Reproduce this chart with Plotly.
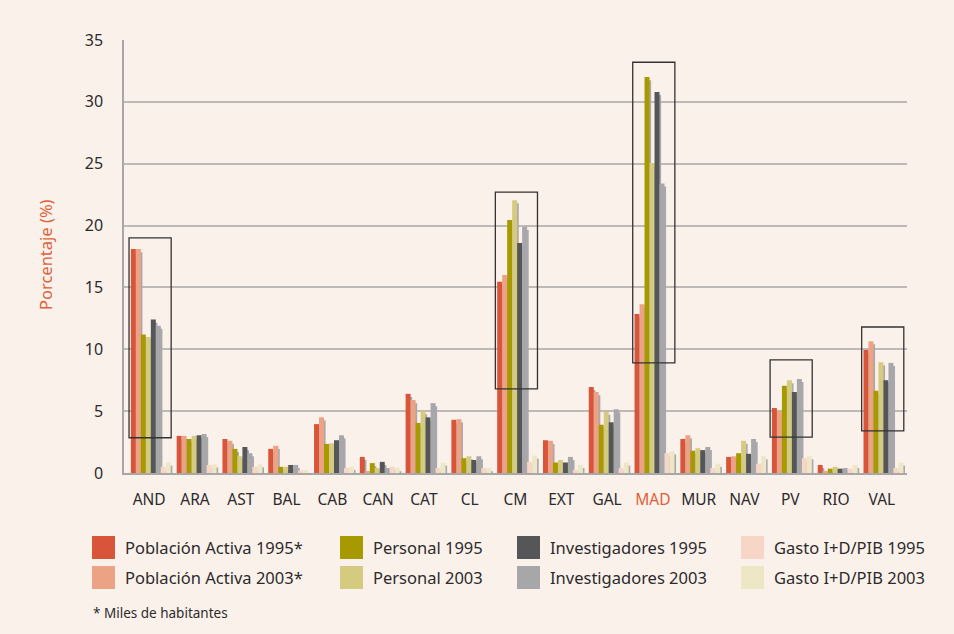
import plotly.graph_objects as go

regions = ["AND", "ARA", "AST", "BAL", "CAB", "CAN", "CAT", "CL", "CM",
           "EXT", "GAL", "MAD", "MUR", "NAV", "PV", "RIO", "VAL"]

pob_activa_1995 = [18.1, 3.0, 2.75, 1.95, 3.95, 1.3, 6.4, 4.3, 15.45, 2.65, 6.95, 12.85, 2.75, 1.3, 5.25, 0.65, 9.95]
pob_activa_2003 = [18.1, 3.0, 2.6, 2.2, 4.5, 0.1, 5.9, 4.35, 16.0, 2.6, 6.55, 13.65, 3.05, 1.35, 5.0, 0.1, 10.65]
personal_1995 = [11.2, 2.75, 1.95, 0.5, 2.35, 0.8, 4.05, 1.2, 20.45, 0.85, 3.9, 32.0, 1.8, 1.6, 7.05, 0.35, 6.65]
personal_2003 = [11.0, 3.0, 1.35, 0.5, 2.4, 0.4, 5.0, 1.35, 22.05, 1.05, 4.95, 25.05, 2.0, 2.6, 7.5, 0.5, 8.95]
invest_1995 = [12.4, 3.05, 2.1, 0.65, 2.65, 0.9, 4.5, 1.05, 18.6, 0.85, 4.1, 30.8, 1.85, 1.55, 6.55, 0.35, 7.5]
invest_2003 = [11.9, 3.15, 1.6, 0.65, 3.05, 0.4, 5.65, 1.35, 19.9, 1.3, 5.15, 23.4, 2.1, 2.75, 7.6, 0.4, 8.9]
gasto_1995 = [0.5, 0.65, 0.5, 0.2, 0.4, 0.5, 0.4, 0.4, 0.9, 0.25, 0.4, 1.6, 0.4, 0.75, 1.2, 0.35, 0.4]
gasto_2003 = [0.85, 0.7, 0.7, 0.25, 0.5, 0.4, 0.85, 0.4, 1.4, 0.65, 0.85, 1.75, 0.75, 1.35, 1.35, 0.65, 0.85]

series = [
    ("Población Activa 1995*", pob_activa_1995, "#d9553a"),
    ("Población Activa 2003*", pob_activa_2003, "#eca284"),
    ("Personal 1995", personal_1995, "#a69a00"),
    ("Personal 2003", personal_2003, "#d4cb80"),
    ("Investigadores 1995", invest_1995, "#555657"),
    ("Investigadores 2003", invest_2003, "#a7a7aa"),
    ("Gasto I+D/PIB 1995", gasto_1995, "#f8d6c7"),
    ("Gasto I+D/PIB 2003", gasto_2003, "#ede7c5"),
]

# highlighted groups: (region, low, high)
boxes = [("AND", 2.85, 19.0), ("CM", 6.8, 22.7), ("MAD", 8.9, 33.2),
         ("PV", 2.9, 9.15), ("VAL", 3.4, 11.8)]

FONT = "Noto Sans"
W, H = 954, 634
L, R, T, B = 124, 907, 40, 473


def px(x):
    return (x - L) / (R - L)


def py(y):
    return (B - y) / (B - T)


bw = 0.109
start = -0.40

fig = go.Figure()

# 3d-ish grey shadows behind each bar
for j, (name, vals, col) in enumerate(series):
    fig.add_trace(go.Bar(x=regions, y=vals, base=-0.25, width=bw,
                         offset=start + j * bw + 0.035,
                         marker=dict(color="#a9a9ad", line_width=0),
                         showlegend=False, hoverinfo="skip"))

for j, (name, vals, col) in enumerate(series):
    fig.add_trace(go.Bar(x=regions, y=vals, name=name, width=bw,
                         offset=start + j * bw,
                         marker=dict(color=col, line_width=0),
                         showlegend=False))

for reg, lo, hi in boxes:
    i = regions.index(reg)
    fig.add_shape(type="rect", xref="x", yref="y", x0=i - 0.44, x1=i + 0.48,
                  y0=lo, y1=hi, line=dict(color="#333333", width=1.3),
                  fillcolor="rgba(0,0,0,0)", layer="above")

# manual legend, 4 columns x 2 rows
cols_x = [92, 340, 517, 741]
rows_y = [536, 566]
order = [0, 2, 4, 6, 1, 3, 5, 7]
for k, idx in enumerate(order):
    name, vals, col = series[idx]
    cx = cols_x[k % 4]
    ry = rows_y[k // 4]
    fig.add_shape(type="rect", xref="paper", yref="paper",
                  x0=px(cx), x1=px(cx + 23), y0=py(ry), y1=py(ry + 23),
                  fillcolor=col, line_width=0)
    fig.add_annotation(xref="paper", yref="paper", x=px(cx + 31), y=py(ry + 11.5),
                       text=name, showarrow=False, xanchor="left", yanchor="middle",
                       font=dict(family=FONT, size=16.5, color="#2b2b2b"))

fig.add_annotation(xref="paper", yref="paper", x=px(91), y=py(613),
                   text="* Miles de habitantes", showarrow=False,
                   xanchor="left", yanchor="middle",
                   font=dict(family=FONT, size=13.5, color="#2b2b2b"))

fig.add_annotation(xref="paper", yref="paper", x=px(45), y=py(255),
                   text="Porcentaje (%)", showarrow=False, textangle=-90,
                   xanchor="center", yanchor="middle",
                   font=dict(family=FONT, size=16.5, color="#e0603a"))

ticktext = [f'<span style="color:#e0603a">{r}</span>' if r == "MAD" else r
            for r in regions]

fig.update_layout(
    width=W, height=H,
    margin=dict(l=L, r=W - R, t=T, b=H - B),
    paper_bgcolor="#fbf1eb", plot_bgcolor="#fbf1eb",
    barmode="overlay",
    font=dict(family=FONT, size=16, color="#2b2b2b"),
    xaxis=dict(type="category", categoryorder="array", categoryarray=regions,
               tickvals=regions, ticktext=ticktext, showgrid=False,
               showline=True, linecolor="#a8a6a6", linewidth=2,
               ticks="", ticklabelstandoff=11, range=[-0.55, 16.55],
               tickfont=dict(size=15.5, color="#2b2b2b")),
    yaxis=dict(range=[0, 35], dtick=5, showgrid=True, gridcolor="#bcb9b7",
               gridwidth=2, zeroline=False, showline=True, linecolor="#a8a6a6",
               linewidth=1.5, ticks="", ticklabelstandoff=16,
               tickfont=dict(size=16, color="#2b2b2b")),
)

fig.write_html("out.html", config={"displayModeBar": False},
               post_script="document.body.style.margin='0';"
               "document.body.style.overflow='hidden';")
